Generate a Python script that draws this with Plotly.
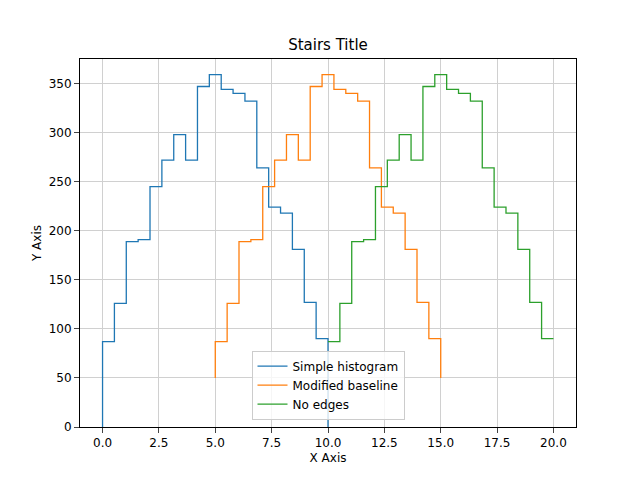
import numpy as np
import plotly.graph_objects as go

counts = [87, 126, 189, 191, 245, 272, 298, 272, 347, 359, 344, 340, 332, 264, 224, 218, 181, 127, 90]
edges = list(np.linspace(0, 10, 20))
names = ["Simple histogram", "Modified baseline", "No edges"]
offsets = [0, 5, 10]
baselines = [0, 50, None]
colors = ["#1f77b4", "#ff7f0e", "#2ca02c"]

fig = go.Figure()
for name, off, base, col in zip(names, offsets, baselines, colors):
    xs = [e + off for e in edges]
    ys = counts + [counts[-1]]
    if base is not None:
        xs = [xs[0]] + xs + [xs[-1]]
        ys = [base] + ys + [base]
    fig.add_trace(go.Scatter(x=xs, y=ys, mode="lines", line_shape="hv", name=name,
                             line=dict(color=col, width=1.3)))

axis = dict(showline=True, mirror=True, linecolor="black", ticks="outside",
            gridcolor="#d0d0d0", zeroline=False, tickfont=dict(size=12, color="black"))
fig.update_layout(
    width=640, height=480, plot_bgcolor="white", paper_bgcolor="white",
    font=dict(family="DejaVu Sans", size=12, color="black"),
    title=dict(text="Stairs Title", x=0.5, y=0.935, xanchor="center", font=dict(size=15)),
    margin=dict(l=72, r=72, t=51, b=61),
    xaxis=dict(axis, range=[-1, 21], tickvals=[0, 2.5, 5, 7.5, 10, 12.5, 15, 17.5, 20],
               ticktext=["0.0", "2.5", "5.0", "7.5", "10.0", "12.5", "15.0", "17.5", "20.0"],
               title=dict(text="X Axis", standoff=4, font=dict(size=12))),
    yaxis=dict(axis, range=[0, 375], dtick=50, title=dict(text="Y Axis", standoff=4, font=dict(size=12))),
    legend=dict(x=0.5, y=0.02, xanchor="center", yanchor="bottom", bgcolor="rgba(255,255,255,0.8)",
                bordercolor="#cccccc", borderwidth=1, font=dict(size=12)),
)
fig.write_html("out.html")
